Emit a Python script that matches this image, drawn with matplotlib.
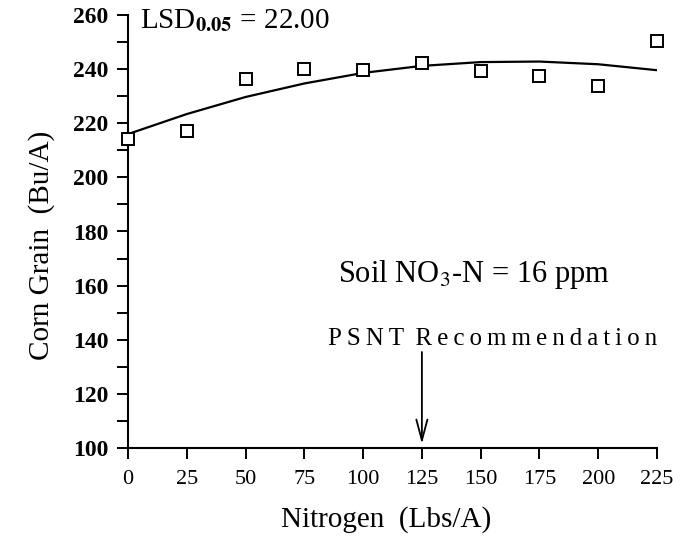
import matplotlib
matplotlib.use('Agg')
import matplotlib.pyplot as plt
import numpy as np

# data
nitrogen = [0, 25, 50, 75, 100, 125, 150, 175, 200, 225]
grain = [214, 217, 236.3, 240, 239.6, 242.2, 239.2, 237.5, 233.8, 250.3]

# fitted curve, read at each 25 lbs
curve_x = [0, 25, 50, 75, 100, 125, 150, 175, 200, 225]
curve_y = [216, 223.4, 229.7, 234.7, 238.6, 241.2, 242.6, 242.8, 241.8, 239.6]

x_ticks = [0, 25, 50, 75, 100, 125, 150, 175, 200, 225]
y_ticks = [100, 120, 140, 160, 180, 200, 220, 240, 260]
psnt_n = 125


def main():
    plt.rcParams['font.family'] = ['Liberation Serif', 'DejaVu Serif']
    plt.rcParams['mathtext.fontset'] = 'stix'

    fig = plt.figure(figsize=(6.73, 5.52), dpi=100)
    ax = fig.add_axes([128 / 673, 1 - 448 / 552, 529 / 673, 433 / 552])

    ax.plot(curve_x, curve_y, color='black', lw=1.6)
    ax.plot(nitrogen, grain, ls='none', marker='s', ms=9, mfc='white',
            mec='black', mew=1.4, clip_on=False, zorder=3)

    ax.set_xlim(0, 225)
    ax.set_ylim(100, 260)
    ax.set_xticks(x_ticks)
    ax.set_yticks(y_ticks)
    ax.set_yticks(np.arange(110, 260, 20), minor=True)
    ax.spines['top'].set_visible(False)
    ax.spines['right'].set_visible(False)
    for s in ['left', 'bottom']:
        ax.spines[s].set_linewidth(1.5)
    ax.tick_params(axis='both', which='major', direction='out', length=8,
                   width=1.4)
    ax.tick_params(axis='y', which='minor', direction='out', length=8, width=1.4)
    ax.tick_params(axis='y', labelsize=17, pad=6)
    ax.tick_params(axis='x', labelsize=16, pad=8)
    for lab in ax.get_yticklabels():
        lab.set_fontweight('bold')

    ax.set_xlabel('Nitrogen  (Lbs/A)', fontsize=21)
    ax.xaxis.set_label_coords(0.488, -0.166)
    ax.xaxis.label.set_va('center')
    ax.set_ylabel('Corn Grain  (Bu/A)', fontsize=21)
    ax.yaxis.set_label_coords(-0.163, 0.467)
    ax.yaxis.label.set_va('center')

    ax.text(5, 255, r'LSD$_{\mathbf{0.05}}$ = 22.00', fontsize=21,
            ha='left', va='baseline')
    ax.text(147, 161.5, r'Soil NO$_3$-N = 16 ppm', fontsize=22,
            ha='center', va='baseline')
    ax.text(155, 138, '\u2009'.join('PSNT') + '\u2009 ' + '\u2009'.join('Recommendation'),
            fontsize=18, ha='center', va='baseline')
    ax.annotate('', xy=(psnt_n, 100.5), xytext=(psnt_n, 136.5),
                arrowprops=dict(arrowstyle='->,head_length=1.5,head_width=0.4',
                                color='black', lw=1.3))

    fig.savefig('out.png', dpi=100)


if __name__ == '__main__':
    main()
